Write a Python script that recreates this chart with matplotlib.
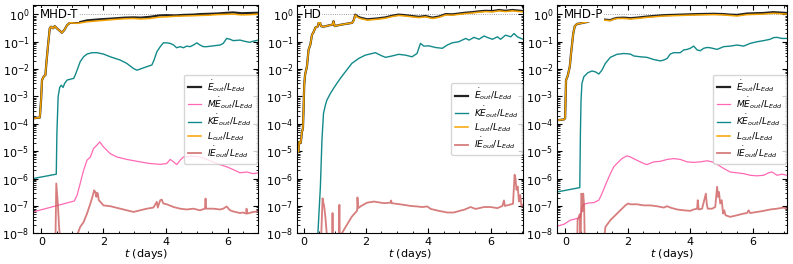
import numpy as np
import matplotlib
matplotlib.use("Agg")
import matplotlib.pyplot as plt
from matplotlib.ticker import FixedLocator, NullFormatter, AutoMinorLocator

# values are log10 of the ratio to L_Edd; t in days

# ---------------- MHD-T ----------------
t_L1 = [-0.27, -0.05, -0.01, 0.02, 0.08, 0.13, 0.16, 0.21, 0.27, 0.31, 0.38, 0.43, 0.50, 0.59, 0.66,
        0.74, 0.83, 0.93, 1.15, 1.47, 1.90, 2.2, 2.43, 2.7, 2.97, 3.2, 3.50, 3.8, 4.04, 4.3, 4.58,
        4.9, 5.11, 5.4, 5.65, 5.9, 6.18, 6.45, 6.72, 6.99]
L1 = [-3.80, -3.77, -3.13, -2.40, -2.26, -2.22, -1.79, -1.18, -0.51, -0.45, -0.51, -0.43, -0.51, -0.60, -0.67,
      -0.57, -0.39, -0.30, -0.33, -0.27, -0.23, -0.20, -0.18, -0.16, -0.15, -0.17, -0.15, -0.10, -0.09, -0.07, -0.06,
      -0.05, -0.04, -0.03, -0.01, 0.0, 0.01, -0.02, -0.01, 0.01]
E1 = [-3.80, -3.77, -3.13, -2.40, -2.26, -2.22, -1.79, -1.18, -0.51, -0.45, -0.51, -0.43, -0.51, -0.60, -0.67,
      -0.57, -0.39, -0.30, -0.31, -0.22, -0.18, -0.16, -0.14, -0.12, -0.11, -0.12, -0.09, -0.04, -0.03, -0.04, -0.02,
      -0.01, 0.01, 0.02, 0.03, 0.05, 0.07, 0.04, 0.05, 0.06]

t_K1 = [-0.27, 0.48, 0.50, 0.54, 0.59, 0.64, 0.70, 0.75, 0.83, 0.93, 1.04, 1.09, 1.17, 1.25, 1.36, 1.47, 1.63,
        1.79, 2.00, 2.22, 2.54, 2.75, 2.97, 3.08, 3.18, 3.40, 3.56, 3.63, 3.72, 3.83, 3.93, 4.04, 4.15, 4.26,
        4.36, 4.47, 4.58, 4.68, 4.79, 4.90, 5.01, 5.11, 5.22, 5.33, 5.54, 5.76, 5.86, 5.97, 6.08, 6.18, 6.40,
        6.61, 6.72, 6.83, 6.99]
K1 = [-6.00, -5.84, -4.35, -3.01, -2.67, -2.59, -2.67, -2.52, -2.40, -2.37, -2.34, -2.22, -1.98, -1.73, -1.55,
      -1.45, -1.40, -1.40, -1.45, -1.55, -1.67, -1.79, -1.98, -2.04, -2.00, -1.91, -1.85, -1.67, -1.37, -1.18,
      -1.04, -1.04, -1.06, -1.12, -1.22, -1.18, -1.22, -1.16, -1.18, -1.12, -1.04, -1.12, -1.18, -1.18, -1.15,
      -1.12, -1.06, -0.88, -0.91, -0.96, -0.94, -1.00, -1.02, -0.98, -0.94]

t_M1 = [-0.27, 1.06, 1.15, 1.25, 1.36, 1.47, 1.58, 1.68, 1.79, 1.88, 2.00, 2.22, 2.43, 2.75, 3.18, 3.50, 3.83,
        4.04, 4.15, 4.26, 4.36, 4.47, 4.58, 4.90, 5.11, 5.33, 5.65, 5.97, 6.18, 6.40, 6.61, 6.83, 6.99]
M1 = [-7.22, -6.82, -6.61, -6.18, -5.70, -5.33, -5.21, -4.90, -4.78, -4.66, -4.84, -5.09, -5.21, -5.30, -5.39,
      -5.45, -5.48, -5.45, -5.30, -5.39, -5.49, -5.33, -5.21, -5.18, -5.21, -5.30, -5.45, -5.57, -5.67, -5.79,
      -5.76, -5.82, -5.79]

t_I1 = [-0.27, 0.44, 0.45, 0.48, 0.53, 0.57, 0.61, 0.63, 1.10, 1.17, 1.25, 1.36, 1.47, 1.58, 1.66, 1.70, 1.74,
        1.77, 1.79, 1.82, 1.85, 1.90, 2.00, 2.22, 2.54, 2.97, 3.18, 3.40, 3.61, 3.72, 3.75, 3.83, 3.88, 3.93,
        4.04, 4.26, 4.47, 4.68, 4.90, 5.11, 5.27, 5.29, 5.31, 5.54, 5.76, 5.86, 5.97, 6.08, 6.18, 6.40, 6.50,
        6.60, 6.61, 6.63, 6.83, 6.99]
I1 = [-9.0, -9.0, -8.5, -6.18, -6.91, -7.77, -8.26, -9.0, -9.0, -8.01, -7.77, -7.59, -7.28, -6.91, -6.61, -6.43,
      -6.49, -6.67, -6.52, -6.55, -6.79, -6.85, -6.98, -7.01, -7.10, -7.22, -7.16, -7.10, -7.06, -6.85, -7.06,
      -6.79, -6.77, -6.91, -6.94, -7.04, -7.10, -7.13, -7.10, -7.16, -7.10, -6.73, -7.10, -7.10, -7.13, -7.10,
      -7.02, -7.16, -7.20, -7.26, -7.24, -7.28, -7.10, -7.28, -7.22, -7.20]

# ---------------- HD ----------------
t_L2 = [-0.21, -0.16, -0.14, -0.09, -0.05, -0.02, 0.00, 0.02, 0.05, 0.08, 0.11, 0.16, 0.19, 0.22, 0.27, 0.32,
        0.38, 0.45, 0.51, 0.56, 0.64, 0.75, 0.86, 0.93, 0.96, 1.00, 1.10, 1.29, 1.45, 1.56, 1.61, 1.66, 1.72,
        1.82, 2.04, 2.36, 2.63, 2.84, 3.05, 3.27, 3.48, 3.70, 3.91, 4.13, 4.34, 4.56, 4.77, 4.98, 5.20, 5.41,
        5.63, 5.84, 6.06, 6.27, 6.48, 6.70, 7.04]
L2 = [-5.06, -5.02, -4.66, -4.70, -4.29, -4.17, -3.50, -2.60, -2.20, -2.05, -1.90, -1.30, -1.20, -1.10, -0.75,
      -0.65, -0.48, -0.45, -0.22, -0.43, -0.45, -0.42, -0.39, -0.38, -0.25, -0.43, -0.40, -0.36, -0.33, -0.31,
      -0.23, -0.03, -0.10, -0.15, -0.21, -0.18, -0.14, -0.08, -0.04, -0.06, -0.09, -0.12, -0.09, -0.15, -0.11,
      -0.02, -0.03, 0.00, 0.03, 0.05, 0.08, 0.10, 0.09, 0.13, 0.10, 0.13, 0.09]
E2 = [-5.06, -5.02, -4.66, -4.70, -4.29, -4.17, -3.50, -2.60, -2.20, -2.05, -1.90, -1.30, -1.20, -1.10, -0.75,
      -0.65, -0.48, -0.45, -0.22, -0.43, -0.45, -0.42, -0.39, -0.38, -0.25, -0.43, -0.40, -0.36, -0.33, -0.31,
      -0.21, -0.01, -0.07, -0.12, -0.18, -0.15, -0.11, -0.05, -0.01, -0.03, -0.06, -0.09, -0.06, -0.12, -0.08,
      0.01, 0.0, 0.03, 0.06, 0.08, 0.11, 0.13, 0.12, 0.16, 0.13, 0.16, 0.12]

t_K2 = [0.44, 0.46, 0.54, 0.59, 0.64, 0.70, 0.75, 0.86, 0.96, 1.07, 1.18, 1.34, 1.55, 1.77, 1.98, 2.20, 2.30,
        2.52, 2.63, 2.84, 3.05, 3.27, 3.48, 3.64, 3.75, 3.86, 4.02, 4.23, 4.45, 4.61, 4.77, 4.98, 5.20, 5.31,
        5.47, 5.63, 5.79, 5.89, 6.06, 6.22, 6.32, 6.48, 6.65, 6.75, 6.86, 7.04]
K2 = [-8.6, -8.01, -6.30, -4.60, -3.62, -3.32, -3.13, -2.89, -2.71, -2.52, -2.34, -2.10, -1.79, -1.61, -1.49,
      -1.43, -1.40, -1.52, -1.57, -1.52, -1.46, -1.49, -1.55, -1.43, -1.06, -1.16, -1.15, -1.21, -1.24, -1.12,
      -1.04, -1.00, -0.88, -0.94, -0.84, -0.91, -0.79, -0.84, -0.91, -0.82, -0.91, -0.76, -0.82, -0.70, -0.82,
      -0.91]

t_I2 = [-0.21, 0.53, 0.57, 0.61, 0.64, 0.66, 0.70, 0.75, 0.78, 0.91, 0.93, 0.95, 1.12, 1.15, 1.17, 1.20, 1.23,
        1.39, 1.55, 1.72, 1.73, 1.75, 1.85, 2.04, 2.26, 2.58, 2.79, 2.81, 2.83, 3.22, 3.43, 3.65, 3.80, 3.97,
        4.08, 4.30, 4.61, 4.82, 5.04, 5.15, 5.36, 5.52, 5.79, 6.00, 6.22, 6.38, 6.43, 6.46, 6.60, 6.72, 6.77,
        6.80, 6.83, 6.87, 6.91, 6.95, 6.99, 7.02, 7.04]
I2 = [-9.0, -9.0, -8.0, -6.72, -6.90, -7.00, -7.40, -8.10, -9.0, -9.0, -7.26, -9.0, -9.0, -6.96, -9.0, -8.3,
      -8.0, -7.69, -7.39, -7.17, -6.69, -7.08, -7.00, -6.88, -6.84, -6.90, -6.88, -6.80, -6.90, -6.96, -7.00,
      -7.02, -7.04, -7.02, -7.11, -7.17, -7.24, -7.24, -7.17, -7.14, -7.04, -7.11, -7.04, -7.04, -7.08, -7.00,
      -6.80, -7.00, -6.96, -6.92, -5.86, -5.99, -6.41, -6.29, -6.84, -6.60, -7.00, -6.96, -7.00]

# ---------------- MHD-P ----------------
t_L3 = [-0.27, -0.05, -0.01, 0.02, 0.07, 0.14, 0.18, 0.25, 0.30, 0.37, 0.48, 0.59, 0.69, 0.80, 0.91, 1.01,
        1.23, 1.44, 1.55, 1.65, 1.87, 2.08, 2.29, 2.61, 3.15, 3.68, 4.22, 4.75, 5.07, 5.28, 5.50, 5.82, 6.35,
        6.67, 7.10]
L3 = [-3.87, -3.84, -3.80, -2.40, -2.26, -1.91, -1.43, -0.70, -0.43, -0.35, -0.33, -0.30, -0.28, -0.23, -0.21,
      -0.18, -0.21, -0.23, -0.18, -0.15, -0.15, -0.17, -0.15, -0.11, -0.06, -0.04, -0.02, -0.01, -0.02, -0.04,
      -0.06, -0.01, 0.01, 0.04, 0.01]
E3 = [-3.87, -3.84, -3.80, -2.40, -2.26, -1.91, -1.43, -0.70, -0.43, -0.35, -0.33, -0.30, -0.28, -0.23, -0.21,
      -0.17, -0.19, -0.21, -0.16, -0.13, -0.12, -0.14, -0.12, -0.08, -0.03, -0.01, 0.01, 0.02, 0.01, -0.01,
      -0.02, 0.03, 0.05, 0.08, 0.05]

t_K3 = [-0.27, 0.46, 0.48, 0.50, 0.53, 0.59, 0.72, 0.85, 0.96, 1.07, 1.17, 1.28, 1.44, 1.65, 1.87, 2.08, 2.19,
        2.40, 2.61, 2.83, 3.04, 3.15, 3.26, 3.36, 3.47, 3.68, 3.79, 3.90, 4.00, 4.11, 4.22, 4.32, 4.43, 4.54,
        4.64, 4.86, 5.07, 5.28, 5.50, 5.71, 5.92, 6.14, 6.35, 6.56, 6.67, 6.78, 6.94, 7.10]
K3 = [-6.49, -6.33, -4.35, -3.13, -2.52, -2.28, -2.13, -2.07, -2.10, -2.18, -2.04, -1.79, -1.57, -1.46, -1.43,
      -1.45, -1.52, -1.55, -1.57, -1.65, -1.70, -1.67, -1.61, -1.45, -1.40, -1.40, -1.30, -1.28, -1.24, -1.16,
      -1.30, -1.33, -1.24, -1.21, -1.22, -1.28, -1.18, -1.16, -1.12, -1.16, -1.06, -1.00, -0.96, -0.91, -0.85,
      -0.84, -0.88, -0.88]

t_M3 = [-0.27, -0.05, 0.16, 0.37, 0.48, 0.53, 0.59, 0.75, 0.91, 1.07, 1.17, 1.28, 1.44, 1.55, 1.65, 1.81, 1.97,
        2.08, 2.29, 2.51, 2.61, 2.83, 3.04, 3.26, 3.47, 3.68, 3.90, 4.11, 4.32, 4.54, 4.70, 4.86, 5.07, 5.28,
        5.50, 5.71, 5.92, 6.14, 6.35, 6.51, 6.62, 6.78, 6.94, 7.10]
M3 = [-7.74, -7.67, -7.52, -7.46, -7.40, -7.10, -6.94, -6.89, -6.88, -6.79, -6.55, -6.24, -5.82, -5.57, -5.45,
      -5.27, -5.17, -5.21, -5.33, -5.45, -5.49, -5.39, -5.37, -5.30, -5.27, -5.30, -5.39, -5.41, -5.39, -5.35,
      -5.39, -5.48, -5.63, -5.76, -5.79, -5.82, -5.88, -5.90, -5.88, -5.79, -5.76, -5.88, -5.84, -5.88]

t_I3 = [-0.27, 0.37, 0.39, 0.42, 0.46, 0.48, 0.51, 0.53, 0.55, 0.57, 0.60, 0.63, 1.17, 1.28, 1.44, 1.60, 1.76,
        1.92, 2.01, 2.08, 2.29, 2.51, 2.72, 2.93, 3.15, 3.26, 3.36, 3.58, 3.79, 4.00, 4.11, 4.22, 4.24, 4.27,
        4.38, 4.50, 4.53, 4.56, 4.70, 4.80, 4.86, 4.89, 4.92, 4.96, 5.01, 5.05, 5.09, 5.13, 5.28, 5.50, 5.71,
        5.82, 5.87, 5.92, 6.14, 6.35, 6.56, 6.78, 6.99, 7.10]
I3 = [-9.0, -9.0, -7.5, -7.45, -7.30, -9.0, -6.55, -6.60, -7.20, -6.55, -7.00, -9.0, -9.0, -7.77, -7.52, -7.34,
      -7.16, -6.98, -6.91, -6.94, -6.94, -6.98, -6.98, -7.01, -7.06, -7.01, -7.06, -7.13, -7.16, -7.18, -7.13,
      -7.10, -6.79, -7.13, -7.10, -6.55, -6.94, -7.10, -7.10, -7.04, -6.30, -6.67, -6.49, -6.91, -6.79, -7.28,
      -7.16, -7.34, -7.40, -7.34, -7.28, -7.26, -7.16, -7.26, -7.22, -7.18, -7.13, -7.10, -7.06, -7.10]

panels = [
    ("MHD-T", (-0.27, 6.98), [(t_L1, E1), (t_M1, M1), (t_K1, K1), (t_L1, L1), (t_I1, I1)]),
    ("HD", (-0.21, 7.04), [(t_L2, E2), None, (t_K2, K2), (t_L2, L2), (t_I2, I2)]),
    ("MHD-P", (-0.27, 7.10), [(t_L3, E3), (t_M3, M3), (t_K3, K3), (t_L3, L3), (t_I3, I3)]),
]

labels = [r"$\dot{E}_{out}/L_{Edd}$", r"$M\dot{E}_{out}/L_{Edd}$", r"$K\dot{E}_{out}/L_{Edd}$",
          r"$L_{out}/L_{Edd}$", r"$I\dot{E}_{out}/L_{Edd}$"]
styles = [dict(color="#222222", lw=1.6),
          dict(color="#ff69b4", lw=0.9),
          dict(color="#138a8a", lw=1.0),
          dict(color="#f5a300", lw=1.1),
          dict(color="#cd5c5c", lw=1.3, alpha=0.8)]

decades = [10.0 ** k for k in range(-8, 1)]
minors = [m * 10.0 ** k for k in range(-8, 1) for m in range(2, 10) if m * 10.0 ** k <= 2.2]

W, H = 793, 264
fig = plt.figure(figsize=(W / 100, H / 100), dpi=100)
lefts = [33, 297, 557]
widths = [225, 226, 230]
bottom, top = 233.3, 5

for (name, xl, series), left, width in zip(panels, lefts, widths):
    ax = fig.add_axes([left / W, 1 - bottom / H, width / W, (bottom - top) / H])
    for s, lab, st in zip(series, labels, styles):
        if s is None:
            continue
        t, v = s
        ax.plot(t, 10 ** np.array(v), label=lab, **st)
    ax.axhline(1.0, color="grey", ls=":", lw=0.6, zorder=0)
    ax.set_yscale("log")
    ax.set_ylim(1e-8, 2.2)
    ax.set_xlim(*xl)
    ax.yaxis.set_major_locator(FixedLocator(decades))
    ax.yaxis.set_minor_locator(FixedLocator(minors))
    ax.yaxis.set_minor_formatter(NullFormatter())
    ax.xaxis.set_minor_locator(AutoMinorLocator(4))
    ax.tick_params(which="both", direction="in", top=True, right=True, labelsize=8, pad=2.5)
    ax.tick_params(which="major", length=3.5)
    ax.tick_params(which="minor", length=1.8)
    ax.set_xticks([0, 2, 4, 6])
    ax.set_xlabel(r"$t$ (days)", fontsize=8, labelpad=0)
    ax.text(0.03, 0.957, name, transform=ax.transAxes, fontsize=8.5, va="center", ha="left",
            bbox=dict(facecolor="white", edgecolor="none", pad=0.5))
    ax.legend(loc="center right", fontsize=6.5, handlelength=1.5, handletextpad=0.6,
              borderaxespad=0.15, labelspacing=0.2, borderpad=0.4)

fig.savefig("out.png", dpi=100)
